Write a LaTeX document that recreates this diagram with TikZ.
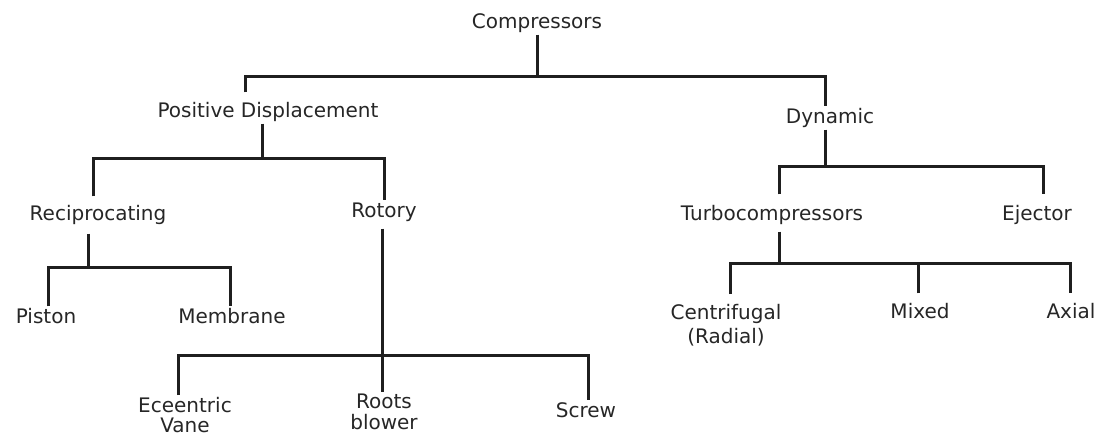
\documentclass[tikz,border=0pt]{standalone}
\usepackage{fontspec}
\setmainfont{DejaVu Sans}
\usetikzlibrary{positioning, calc}

\begin{document}
\begin{tikzpicture}[
  x=1pt, y=-1pt,
  base/.style = {
    inner sep=2pt,
    text=black!85,
    font=\fontsize{20}{24}\selectfont,
    align=center
  },
  item/.style = {
    base,
    text height=15pt,
    text depth=4pt
  },
  twoline/.style = {
    base,
    anchor=north
  },
  link/.style = {draw=black!88, line width=3pt},
  gap/.style = {shorten <=#1, shorten >=#1}
]

\useasboundingbox (0,0) rectangle (1096,436);

% ======================================================
% NODES
% ======================================================

\node[item] (comp) at (537,23) {Compressors};

\node[item] (posdisp) at (268,112) {Positive Displacement};
\node[item] (dyn) at (830,118) {Dynamic};

\node[item] (recip) at (98,215) {Reciprocating};
\node[item] (rotory) at (384,212) {Rotory};
\node[item] (turbo) at (772,215) {Turbocompressors};
\node[item] (ejector) at (1037,215) {Ejector};

\node[item] (piston) at (46,318) {Piston};
\node[item] (membrane) at (232,318) {Membrane};

\node[twoline] (centri) at (726,302) {Centrifugal\\(Radial)};
\node[item] (mixed) at (920,313) {Mixed};
\node[item] (axial) at (1071,313) {Axial};

\node[twoline] (eccvane) at (185,395) {Eceentric\\[-4pt]Vane};
\node[twoline] (roots) at (384,392) {Roots\\[-3pt]blower};
\node[item] (screw) at (586,412) {Screw};

% ======================================================
% CONNECTORS
% ======================================================

% Compressors
\coordinate (bar0-l) at (245,77);
\coordinate (bar0-r) at (825,77);
\draw[link] (comp.south) -- (comp.south |- bar0-l);
\draw[link, shorten <=8pt] (posdisp.north -| bar0-l) -- (bar0-l) -- (bar0-r) -- (dyn.north -| bar0-r);

% Positive Displacement
\coordinate (bar1-l) at (93,158);
\coordinate (bar1-r) at (384,158);
\draw[link] (posdisp.south -| 262,0) -- (bar1-l -| 262,0);
\draw[link, shorten <=7pt] (recip.north -| bar1-l) -- (bar1-l) -- (bar1-r) -- (rotory.north -| bar1-r);

% Reciprocating
\coordinate (rc-j) at (88,267);
\coordinate (bar2-l) at (48,267);
\coordinate (bar2-r) at (230,267);
\draw[link, shorten <=7pt] (recip.south -| rc-j) -- (rc-j);
\draw[link] (piston.north -| bar2-l) -- (bar2-l) -- (bar2-r) -- (membrane.north -| bar2-r);

% Rotory
\coordinate (bar3-l) at (178,355);
\coordinate (bar3-m) at (382,355);
\coordinate (bar3-r) at (588,355);
\draw[link, shorten <=5pt] (rotory.south -| bar3-m) -- (roots.north -| bar3-m);
\draw[link] (eccvane.north -| bar3-l) -- (bar3-l) -- (bar3-r) -- (screw.north -| bar3-r);

% Dynamic
\coordinate (bar4-l) at (779,166);
\coordinate (bar4-r) at (1043,166);
\draw[link] (dyn.south -| bar0-r) -- (bar4-l -| bar0-r);
\draw[link, gap=9pt] (turbo.north -| bar4-l) -- (bar4-l) -- (bar4-r) -- (ejector.north -| bar4-r);

% Turbocompressors
\coordinate (tb-j) at (779,263);
\coordinate (bar5-l) at (730,263);
\coordinate (bar5-m) at (918,263);
\coordinate (bar5-r) at (1070,263);
\draw[link, shorten <=5pt] (turbo.south -| tb-j) -- (tb-j);
\draw[link, gap=8pt] (centri.north -| bar5-l) -- (bar5-l) -- (bar5-r) -- (axial.north -| bar5-r);
\draw[link, shorten <=8pt] (mixed.north -| bar5-m) -- (bar5-m);

\end{tikzpicture}
\end{document}
